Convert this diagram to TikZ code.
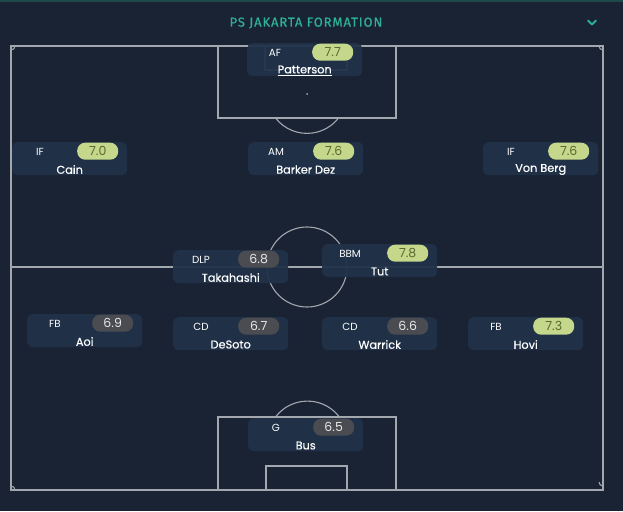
\documentclass[tikz,border=0pt]{standalone}
\usepackage{fontspec}
\setmainfont{Poppins}
\newfontfamily\titlefont[LetterSpace=7,FakeBold=0.6]{Fira Sans}
\newfontfamily\namefont[FakeBold=0.5]{Poppins}
\definecolor{bgc}{HTML}{1A2334}
\definecolor{stripc}{HTML}{1E4A4B}
\definecolor{titlec}{HTML}{2DB093}
\definecolor{linec}{HTML}{A3A7AE}
\definecolor{cardc}{HTML}{203149}
\definecolor{greenc}{HTML}{C4D78B}
\definecolor{greent}{HTML}{5A6A2E}
\definecolor{grayc}{HTML}{4B4C51}
\definecolor{grayt}{HTML}{E6E6E6}
\tikzset{
  pitch/.style={draw=linec, line width=1.1pt},
  card/.style={fill=cardc, fill opacity=0.94, rounded corners=5pt, minimum width=115pt, minimum height=33pt, inner sep=0pt},
  poslab/.style={text=white, font=\fontsize{10.3}{11}\selectfont, inner sep=0pt},
  namelab/.style={text=white, font=\namefont\fontsize{11.3}{12}\selectfont, inner sep=0pt},
  pillgreen/.style={fill=greenc, text=greent, rounded corners=8pt, minimum width=41pt, minimum height=17pt, inner sep=0pt, font=\fontsize{12.5}{13}\selectfont},
  pillgray/.style={fill=grayc, text=grayt, rounded corners=8pt, minimum width=41pt, minimum height=17pt, inner sep=0pt, font=\fontsize{12.5}{13}\selectfont}
}
\newcommand\playercard[7]{%
  \node[card, anchor=north west] (#1) at (#2,#3) {};
  \node[poslab] (#1-pos) at ([xshift=28pt,yshift=-9.5pt]#1.north west) {#4};
  \node[#6, anchor=north west] (#1-rt) at ([xshift=65pt,yshift=-0.5pt]#1.north west) {#5};
  \node[namelab] (#1-name) at ([yshift=-27.5pt]#1.north) {#7};
}
\begin{document}
\begin{tikzpicture}[x=1pt,y=-1pt]
\useasboundingbox (0,0) rectangle (623,511);
\fill[bgc] (0,0) rectangle (623,511);
\fill[stripc] (0,0) rectangle (623,2.5);
\node[text=titlec, font=\titlefont\fontsize{13}{14}\selectfont, inner sep=0pt] (title) at (306,23) {PS JAKARTA FORMATION};
\draw[titlec, line width=2pt, line cap=round, line join=round] (588,20.5) -- (592,24.5) -- (596,20.5);
% pitch
\draw[pitch] (11,46) rectangle (603,490);
\draw[pitch] (11,267) -- (603,267);
\draw[pitch] (307,267) circle[radius=40];
\fill[linec] (307,267) circle[radius=1.2];
% top area
\draw[pitch] (218,46) rectangle (396,118);
\draw[pitch] (265,46) rectangle (347,70);
\fill[linec] (307,94) circle[radius=1];
\draw[pitch] (275.5,118) arc[start angle=-142, end angle=-38, x radius=40, y radius=-40];
% bottom area
\draw[pitch] (218,417) rectangle (396,490);
\draw[pitch] (266,466) rectangle (347,490);
\draw[pitch] (275.5,417) arc[start angle=143, end angle=37, x radius=40, y radius=-40];
% corner arcs
\draw[pitch] (11,50) arc[start angle=-90, end angle=0, x radius=4, y radius=-4];
\draw[pitch] (599,46) arc[start angle=180, end angle=270, x radius=4, y radius=-4];
\draw[pitch] (15,490) arc[start angle=0, end angle=90, x radius=4, y radius=-4];
\draw[pitch] (603,486) arc[start angle=270, end angle=180, x radius=4, y radius=-4];
% players
\playercard{af}{247}{43}{AF}{7.7}{pillgreen}{\underline{Patterson}}
\playercard{ifl}{12}{142}{IF}{7.0}{pillgreen}{Cain}
\playercard{am}{248}{142}{AM}{7.6}{pillgreen}{Barker Dez}
\playercard{ifr}{483}{142}{IF}{7.6}{pillgreen}{Von Berg}
\playercard{dlp}{173}{250}{DLP}{6.8}{pillgray}{Takahashi}
\playercard{bbm}{322}{244}{BBM}{7.8}{pillgreen}{Tut}
\playercard{fbl}{27}{314}{FB}{6.9}{pillgray}{Aoi}
\playercard{cdl}{173}{317}{CD}{6.7}{pillgray}{DeSoto}
\playercard{cdr}{322}{317}{CD}{6.6}{pillgray}{Warrick}
\playercard{fbr}{468}{317}{FB}{7.3}{pillgreen}{Hovi}
\playercard{gk}{248}{418}{G}{6.5}{pillgray}{Bus}
\end{tikzpicture}
\end{document}
